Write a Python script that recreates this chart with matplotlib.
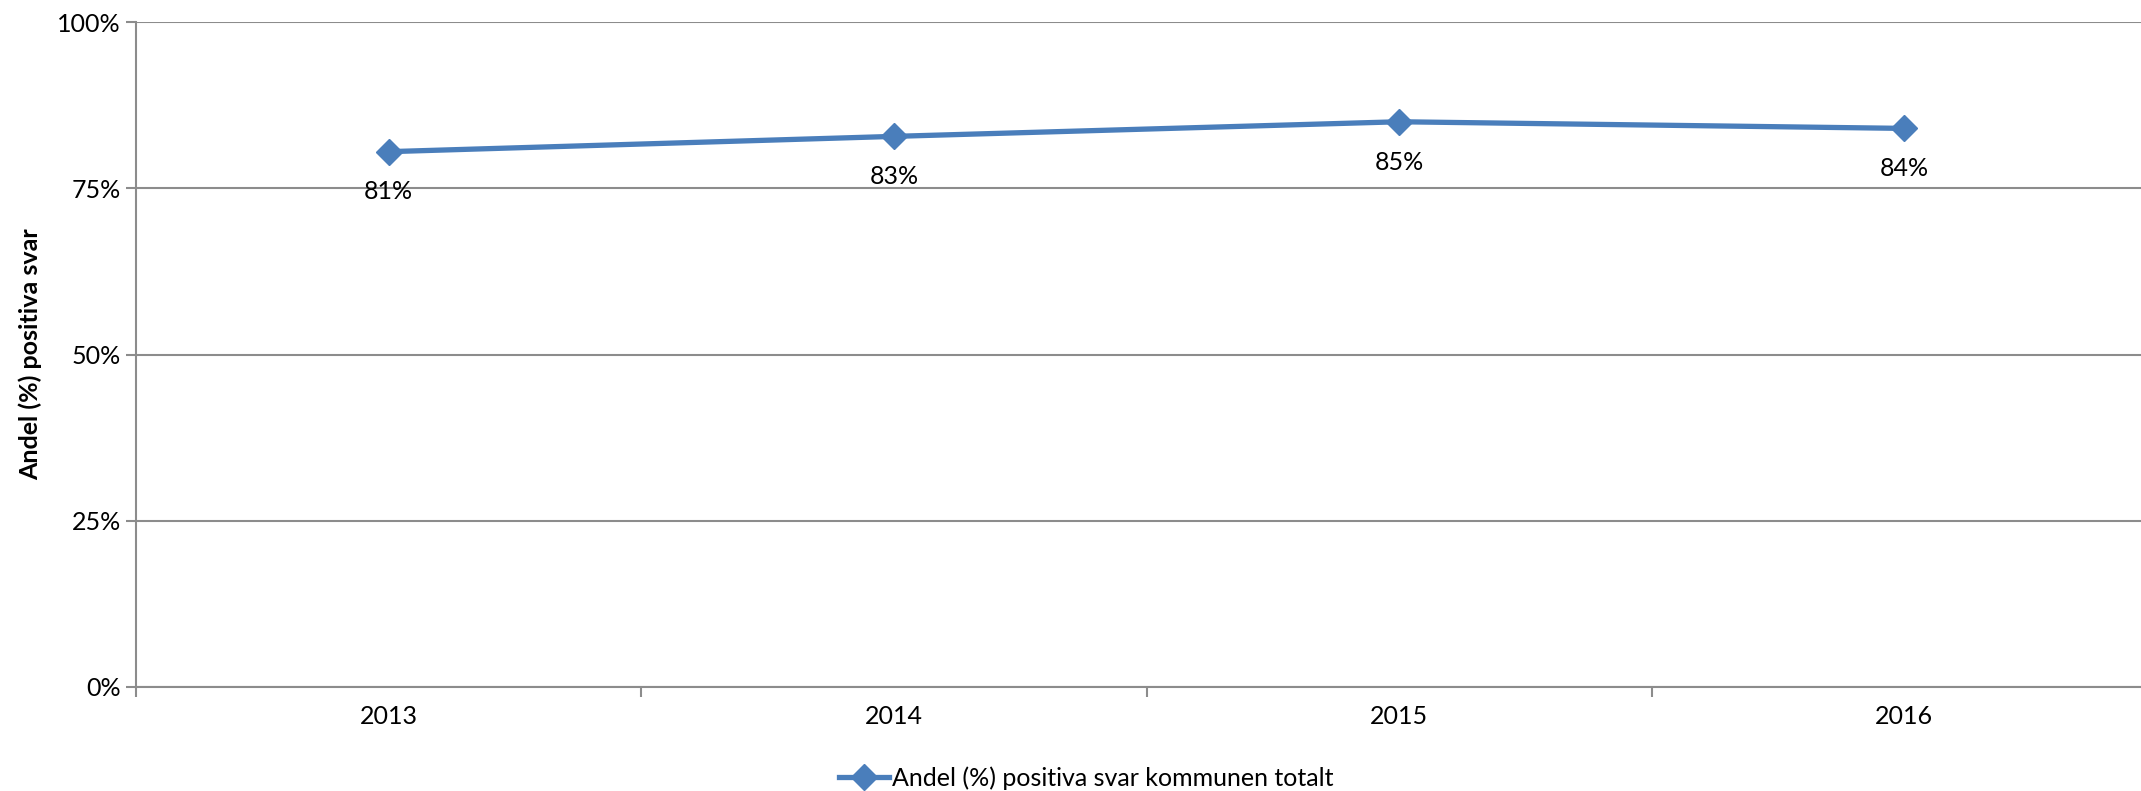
import matplotlib
matplotlib.use('Agg')
import matplotlib.pyplot as plt
from matplotlib.ticker import FixedLocator, NullFormatter

plt.rcParams['font.family'] = ['Lato', 'DejaVu Sans']

years = ['2013', '2014', '2015', '2016']
values = [80.5, 82.8, 85.0, 84.0]
labels = ['81%', '83%', '85%', '84%']
series_name = 'Andel (%) positiva svar kommunen totalt'

W, H = 2141, 791
fig = plt.figure(figsize=(W / 100, H / 100), dpi=100)
left, right, top, bottom = 136, 2157, 22, 687
ax = fig.add_axes([left / W, 1 - bottom / H, (right - left) / W, (bottom - top) / H])

blue = '#4a7ebb'
grid = '#8c8c8c'
fs = 18
x = list(range(len(years)))
ax.plot(x, values, color=blue, lw=3.8, marker='D', ms=13.5, mec=blue, mfc=blue,
        label=series_name, zorder=3)
for xi, v, t in zip(x, values, labels):
    ax.annotate(t, (xi, v), xytext=(0, -29), textcoords='offset points',
                ha='center', va='center', fontsize=fs, color='black')

ax.set_xlim(-0.5, 3.5)
ax.set_ylim(0, 100)
ax.set_yticks([0, 25, 50, 75, 100])
ax.set_yticklabels(['0%', '25%', '50%', '75%', '100%'], fontsize=fs)
ax.yaxis.grid(True, color=grid, lw=1.5)
ax.set_axisbelow(True)

ax.set_xticks(x)
ax.set_xticklabels(years, fontsize=fs)
ax.tick_params(axis='x', which='major', length=0, pad=13)
ax.xaxis.set_minor_locator(FixedLocator([-0.5, 0.5, 1.5, 2.5, 3.5]))
ax.xaxis.set_minor_formatter(NullFormatter())
ax.tick_params(axis='x', which='minor', length=7, width=1.5, color=grid)
ax.tick_params(axis='y', length=7, width=1.5, color=grid, pad=4)

for s in ['top', 'right']:
    ax.spines[s].set_visible(False)
for s in ['left', 'bottom']:
    ax.spines[s].set_color(grid)
    ax.spines[s].set_linewidth(1.5)

ax.set_ylabel('Andel (%) positiva svar', fontsize=fs, fontweight='bold', labelpad=11)

fig.legend(loc='center', bbox_to_anchor=(1086 / W, 1 - 778 / H), frameon=False,
           fontsize=fs, handlelength=2.0, handletextpad=0.1)

fig.savefig('out.png', dpi=100)
